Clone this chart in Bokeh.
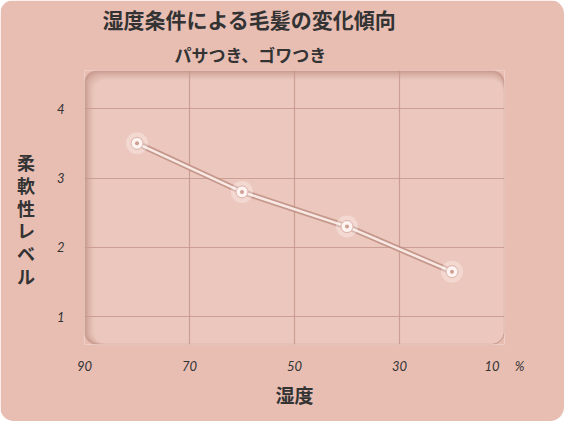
from bokeh.plotting import figure
from bokeh.models import Range1d, FixedTicker, BoxAnnotation, Title
from bokeh.embed import file_html
from bokeh.resources import INLINE

# ---- data ----
title_text = "湿度条件による毛髪の変化傾向"
subtitle_text = "パサつき、ゴワつき"
x_label = "湿度"
y_label = "柔軟性レベル"
unit_label = "%"
x_ticks = [90, 70, 50, 30, 10]
y_ticks = [1, 2, 3, 4]
humidity = [80, 60, 40, 20]
softness = [3.5, 2.8, 2.3, 1.65]

# ---- layout ----
W, H = 564, 421
BL, BR, BT, BB = 84, 60, 70, 77
X0, X1 = 90, 10
Y0, Y1 = 0.6, 4.55
FW, FH = W - BL - BR, H - BT - BB

CARD = "#e8beb3"
INNER = "#ecc7bd"
TEXT = "#333333"
JP = "Noto Sans CJK JP"


def px_x(fx):
    return X0 + (fx - BL) / FW * (X1 - X0)


def px_y(fy):
    return Y1 - (fy - BT) / FH * (Y1 - Y0)


p = figure(width=W, height=H, x_range=Range1d(X0, X1), y_range=Range1d(Y0, Y1),
           output_backend="svg", toolbar_location=None,
           min_border_left=BL, min_border_right=BR, min_border_top=BT, min_border_bottom=BB)
p.styles = {"border-radius": "14px", "overflow": "hidden"}
p.background_fill_color = CARD
p.border_fill_color = CARD
p.outline_line_color = None

# inset panel with soft top-left shadow
shadow_steps = ["#cc9e93", "#d4a99e", "#dbb3a8", "#e1bbb0", "#e6c1b6", INNER]
for i, c in enumerate(shadow_steps):
    off = i * 1.8
    p.add_layout(BoxAnnotation(left=px_x(BL + off), right=px_x(BL + FW - (1 if i else 0)),
                               top=px_y(BT + off), bottom=px_y(BT + FH - (1 if i else 0)),
                               fill_color=c, fill_alpha=1.0, line_alpha=0,
                               border_radius=12, level="image"))

# grid
p.xgrid.ticker = FixedTicker(ticks=x_ticks[1:-1])
p.ygrid.ticker = FixedTicker(ticks=y_ticks)
p.grid.grid_line_color = "#c4958b"
p.grid.grid_line_width = 1.2
p.grid.grid_line_alpha = 0.8

# axes
for ax in (p.xaxis, p.yaxis):
    ax.axis_line_color = None
    ax.major_tick_line_color = None
    ax.minor_tick_line_color = None
    ax.major_label_text_font = "Lato"
    ax.major_label_text_font_style = "italic"
    ax.major_label_text_font_size = "13px"
    ax.major_label_text_color = TEXT
p.xaxis.ticker = FixedTicker(ticks=x_ticks)
p.yaxis.ticker = FixedTicker(ticks=y_ticks)
p.xaxis.major_label_overrides = {x_ticks[-1]: f"{x_ticks[-1]}" + "\u00a0" * 5 + unit_label}
p.xaxis.major_label_standoff = 7
p.yaxis.major_label_standoff = 14

p.xaxis.axis_label = x_label
p.xaxis.axis_label_text_font = JP
p.xaxis.axis_label_text_font_style = "bold"
p.xaxis.axis_label_text_font_size = "19px"
p.xaxis.axis_label_text_color = TEXT
p.xaxis.axis_label_standoff = 4

p.yaxis.axis_label = "\n".join([" "] + list(y_label))
p.yaxis.axis_label_orientation = "horizontal"
p.yaxis.axis_label_text_font = JP
p.yaxis.axis_label_text_font_style = "bold"
p.yaxis.axis_label_text_font_size = "18px"
p.yaxis.axis_label_text_line_height = 0.875
p.yaxis.axis_label_text_color = TEXT
p.yaxis.axis_label_standoff = 19

# data line (shadowed rod) and glowing beads
p.line(humidity, softness, line_color="#bf8f84", line_width=6, line_alpha=0.85)
p.line(humidity, softness, line_color="#f8e9e4", line_width=2.5)
p.scatter(humidity, softness, size=22, fill_color="white", fill_alpha=0.3, line_alpha=0)
p.scatter(humidity, softness, size=12, fill_color="#fdf3f0", line_color="#dcb2a8", line_width=1)
p.scatter(humidity, softness, size=4, fill_color="#cf9f94", line_alpha=0)

# titles (first added sits closest to the frame)
p.add_layout(Title(text=subtitle_text, align="left", offset=90, standoff=8,
                   text_font=JP, text_font_style="bold", text_font_size="17px",
                   text_color=TEXT), "above")
p.add_layout(Title(text=title_text, align="left", offset=18, standoff=3,
                   text_font=JP, text_font_style="bold", text_font_size="21px",
                   text_color=TEXT), "above")

open("out.html", "w").write(file_html(p, INLINE))
